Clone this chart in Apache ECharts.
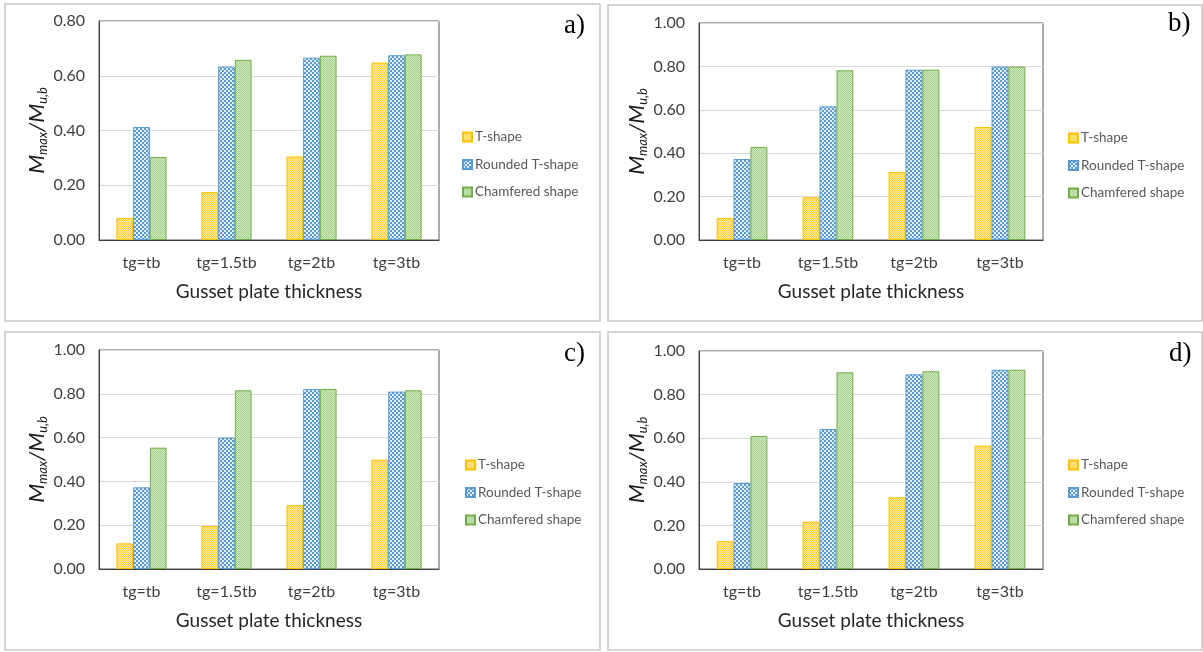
<!DOCTYPE html>
<html>
<head>
<meta charset="utf-8">
<script src="https://cdn.jsdelivr.net/npm/echarts@6/dist/echarts.min.js"></script>
<style>
html,body{margin:0;padding:0;background:#fff;}
#chart{width:1203px;height:652px;}
</style>
</head>
<body>
<div id="chart"></div>
<script>
// ---- data ----
const categories = ['tg=tb', 'tg=1.5tb', 'tg=2tb', 'tg=3tb'];
const seriesNames = ['T-shape', 'Rounded T-shape', 'Chamfered shape'];
const panelLabels = ['a)', 'b)', 'c)', 'd)'];
const yMaxes = [0.8, 1.0, 1.0, 1.0];
const xAxisTitle = 'Gusset plate thickness';

const tShapeA = [0.080, 0.175, 0.305, 0.648];
const roundedA = [0.413, 0.634, 0.666, 0.675];
const chamferedA = [0.303, 0.658, 0.673, 0.678];

const tShapeB = [0.101, 0.197, 0.313, 0.521];
const roundedB = [0.373, 0.616, 0.785, 0.799];
const chamferedB = [0.429, 0.782, 0.785, 0.799];

const tShapeC = [0.117, 0.196, 0.292, 0.499];
const roundedC = [0.373, 0.600, 0.822, 0.810];
const chamferedC = [0.554, 0.816, 0.822, 0.816];

const tShapeD = [0.128, 0.217, 0.329, 0.566];
const roundedD = [0.394, 0.642, 0.893, 0.914];
const chamferedD = [0.610, 0.902, 0.907, 0.914];

const panelData = [
  [tShapeA, roundedA, chamferedA],
  [tShapeB, roundedB, chamferedB],
  [tShapeC, roundedC, chamferedC],
  [tShapeD, roundedD, chamferedD]
];

// ---- patterns ----
function makePattern(size, bg, fg, cells) {
  const c = document.createElement('canvas');
  c.width = size; c.height = size;
  const ctx = c.getContext('2d');
  ctx.fillStyle = bg; ctx.fillRect(0, 0, size, size);
  ctx.fillStyle = fg;
  cells.forEach(p => ctx.fillRect(p[0], p[1], p[2] || 1, p[3] || 1));
  return { image: c, repetition: 'repeat' };
}
const yellowPat = makePattern(2, '#fff0b0', '#ffcb2e', [[0, 0], [1, 1]]);
const bluePat = makePattern(4, '#e4eef9', '#5b9bd5', [[0, 0, 2, 2], [2, 2, 2, 2]]);
const greenPat = makePattern(2, '#d3e9c5', '#a3cf86', [[0, 0], [1, 1]]);
const fills = [yellowPat, bluePat, greenPat];
const borders = ['#ffc000', '#5b9bd5', '#70ad47'];

// ---- layout ----
const grids = [
  { left: 99, top: 21, width: 340, height: 219 },
  { left: 699, top: 23, width: 344, height: 217 },
  { left: 99, top: 350, width: 340, height: 219 },
  { left: 699, top: 351, width: 344, height: 218 }
];
const legendPos = [
  { left: 457, top: 125 },
  { left: 1063, top: 126 },
  { left: 460, top: 453 },
  { left: 1063, top: 453 }
];
const labelPos = [
  { x: 564, y: 12 }, { x: 1168, y: 10 }, { x: 564, y: 340 }, { x: 1169, y: 340 }
];
const frames = [
  { x: 5, y: 4, w: 595, h: 317 },
  { x: 608, y: 5, w: 594, h: 316 },
  { x: 5, y: 332, w: 595, h: 318 },
  { x: 608, y: 332, w: 594, h: 318 }
];

const FONT = 'Lato';
const option = {
  backgroundColor: '#fff',
  animation: false,
  grid: [], xAxis: [], yAxis: [], series: [], legend: [], graphic: []
};

frames.forEach(f => {
  option.graphic.push({
    type: 'rect', silent: true, z: -1,
    shape: { x: f.x, y: f.y, width: f.w, height: f.h },
    style: { fill: 'none', stroke: '#c8c8c8', lineWidth: 1.5 }
  });
});
labelPos.forEach((p, i) => {
  option.graphic.push({
    type: 'text', left: p.x, top: p.y,
    style: { text: panelLabels[i], font: '27px "Liberation Serif", "DejaVu Serif", serif', fill: '#000' }
  });
});

grids.forEach((g, i) => {
  option.grid.push(Object.assign({ show: true, borderColor: '#595959', borderWidth: 1, backgroundColor: 'transparent', containLabel: false }, g));
  option.xAxis.push({
    type: 'category', gridIndex: i, data: categories,
    axisLine: { lineStyle: { color: '#404040', width: 1 } },
    axisTick: { show: false },
    axisLabel: { fontFamily: FONT, fontSize: 16, color: '#404040', margin: 15 },
    name: xAxisTitle, nameLocation: 'middle', nameGap: 42,
    nameTextStyle: { fontFamily: FONT, fontSize: 19, color: '#262626' }
  });
  option.yAxis.push({
    type: 'value', gridIndex: i, min: 0, max: yMaxes[i], interval: 0.2,
    axisLine: { show: true, lineStyle: { color: '#404040' } },
    axisTick: { show: false },
    splitLine: { lineStyle: { color: '#d9d9d9', width: 1 } },
    axisLabel: { fontFamily: FONT, fontSize: 16, color: '#404040', margin: 14, formatter: v => v.toFixed(2) },
    name: '{i|M}{s|max}{i|/M}{s|u,b}', nameLocation: 'middle', nameRotate: 90, nameGap: 45,
    nameTextStyle: {
      rich: {
        i: { fontFamily: FONT, fontStyle: 'italic', fontSize: 22, color: '#1a1a1a', lineHeight: 26 },
        s: { fontFamily: FONT, fontStyle: 'italic', fontSize: 13, color: '#1a1a1a', lineHeight: 13, verticalAlign: 'bottom' }
      }
    }
  });
  seriesNames.forEach((n, k) => {
    option.series.push({
      type: 'bar', name: n, xAxisIndex: i, yAxisIndex: i,
      data: panelData[i][k],
      barGap: '0%', barCategoryGap: '41%',
      itemStyle: { color: fills[k], borderColor: borders[k], borderWidth: 1 }
    });
  });
  option.legend.push({
    orient: 'vertical', left: legendPos[i].left, top: legendPos[i].top,
    data: seriesNames, itemWidth: 9, itemHeight: 9, itemGap: 13.5,
    icon: 'rect', selectedMode: false,
    textStyle: { fontFamily: FONT, fontSize: 13.5, color: '#595959', padding: [0, 0, 0, -2] }
  });
});

const chart = echarts.init(document.getElementById('chart'), null, { renderer: 'canvas' });
chart.setOption(option);
</script>
</body>
</html>
